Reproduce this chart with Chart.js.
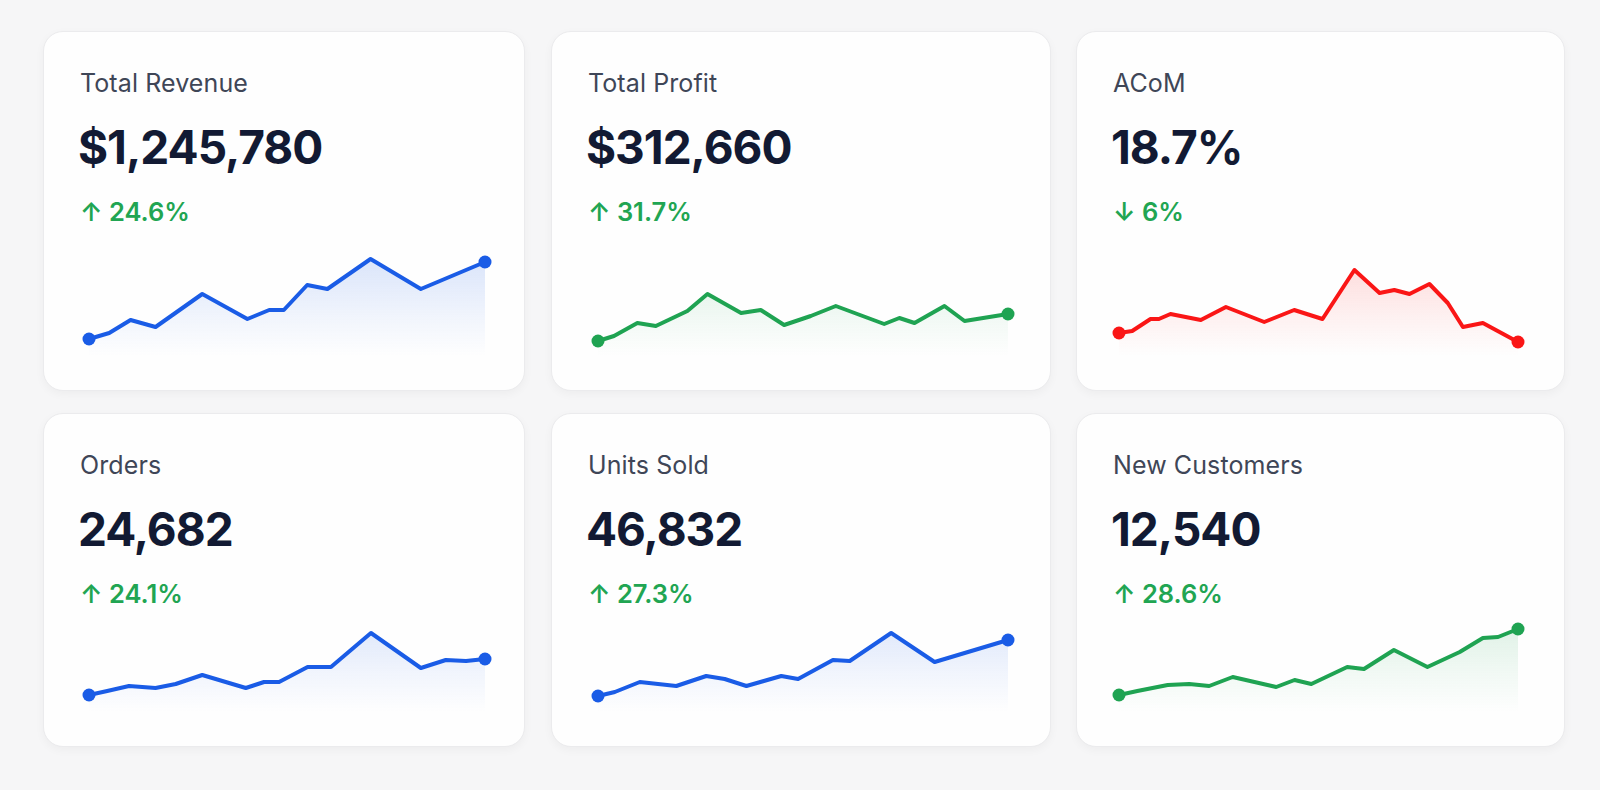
<!DOCTYPE html>
<html>
<head>
<meta charset="utf-8">
<title>KPI Dashboard</title>
<script src="https://cdn.jsdelivr.net/npm/chart.js@4.4.1/dist/chart.umd.min.js"></script>
<style>
    html, body {
        margin: 0;
        padding: 0;
        width: 1600px;
        height: 790px;
        background: #f6f6f7;
        font-family: Inter, "Noto Sans", sans-serif;
        overflow: hidden;
    }
    .card {
        position: absolute;
        box-sizing: border-box;
        background: #fefefe;
        border: 1px solid #ebebed;
        border-radius: 20px;
        box-shadow: 0 3px 10px rgba(0, 0, 0, 0.04);
    }
    .card-title {
        position: absolute;
        left: 36px;
        top: 36px;
        font-size: 25px;
        color: #3f4657;
        letter-spacing: 0.1px;
    }
    .card-value {
        position: absolute;
        left: 34px;
        top: 87px;
        font-size: 46px;
        font-weight: 700;
        color: #121a33;
        letter-spacing: -1px;
    }
    .card-change {
        position: absolute;
        left: 36px;
        top: 164px;
        font-size: 25.5px;
        font-weight: 600;
        color: #21a552;
    }
    .spark {
        position: absolute;
    }
</style>
</head>
<body>
<div id="dashboard"></div>

<script>
// KPI cards with sparklines

const cardTitles = ['Total Revenue', 'Total Profit', 'ACoM', 'Orders', 'Units Sold', 'New Customers'];
const cardValues = ['$1,245,780', '$312,660', '18.7%', '24,682', '46,832', '12,540'];
const cardChanges = ['↑ 24.6%', '↑ 31.7%', '↓ 6%', '↑ 24.1%', '↑ 27.3%', '↑ 28.6%'];

// sparkline points: x = position along period (0-100), y = relative level (0-100)
const revenueX = [0, 5.1, 10.5, 16.8, 28.6, 40, 45.5, 49.2, 55.1, 60.2, 71.1, 83.8, 100];
const revenueY = [17, 23, 36, 29, 62, 37, 46, 46, 71, 67, 97, 67, 94];

const profitX = [0, 3.9, 9.6, 14.1, 21.8, 26.7, 34.9, 39.7, 45.4, 51.9, 58, 69.8, 73.5, 77.2, 84.5, 89.4, 100];
const profitY = [15, 20, 33, 30, 45, 62, 43, 46, 31, 40, 50, 32, 38, 33, 50, 35, 42];

const acomX = [0, 3.3, 7.9, 10, 12.9, 20.5, 26.8, 36.4, 43.9, 51, 59, 65.3, 69, 72.8, 77.8, 82.4, 86.2, 91.2, 100];
const acomY = [23, 25, 37, 37, 42, 36, 49, 34, 46, 37, 86, 63, 66, 62, 72, 53, 29, 33, 14];

const ordersX = [0, 4.6, 10.1, 16.8, 21.9, 28.6, 39.6, 44.2, 48, 55.2, 61.1, 71.2, 83.8, 90.1, 95.2, 100];
const ordersY = [17, 21, 26, 24, 28, 37, 24, 30, 30, 45, 45, 79, 44, 52, 51, 53];

const unitsX = [0, 4.1, 10.2, 19.1, 26.4, 30.9, 36.2, 44.7, 48.8, 57.3, 61.4, 71.5, 82.1, 100];
const unitsY = [16, 20, 30, 26, 36, 33, 26, 36, 33, 52, 51, 79, 50, 72];

const customersX = [0, 4.6, 12.2, 17.6, 22.6, 28.5, 39.4, 44, 48.2, 57.2, 61.4, 68.9, 77.3, 85.4, 91.2, 95, 100];
const customersY = [17, 21, 27, 28, 26, 35, 25, 32, 28, 45, 43, 62, 45, 60, 74, 75, 83];

const seriesX = [revenueX, profitX, acomX, ordersX, unitsX, customersX];
const seriesY = [revenueY, profitY, acomY, ordersY, unitsY, customersY];

const BLUE = [26, 92, 230];
const GREEN = [31, 163, 82];
const RED = [250, 22, 22];
const seriesColors = [BLUE, GREEN, RED, BLUE, BLUE, GREEN];

// card grid geometry
const cols = [
    { left: 43, width: 482, chartLeft: 45, chartWidth: 396 },
    { left: 551, width: 500, chartLeft: 46, chartWidth: 410 },
    { left: 1076, width: 489, chartLeft: 42, chartWidth: 399 }
];
const rows = [
    { top: 31, height: 360, chartTop: 224 },
    { top: 413, height: 334, chartTop: 198 }
];
const CHART_H = 100;
const PAD = 10;

function rgba(c, a) {
    return `rgba(${c[0]}, ${c[1]}, ${c[2]}, ${a})`;
}

function buildCards() {
    const root = document.getElementById('dashboard');
    let html = '';

    cardTitles.forEach((title, i) => {
        const col = cols[i % 3];
        const row = rows[Math.floor(i / 3)];
        html += `
            <div class="card" style="left:${col.left}px; top:${row.top}px; width:${col.width}px; height:${row.height}px;">
                <div class="card-title">${title}</div>
                <div class="card-value">${cardValues[i]}</div>
                <div class="card-change">${cardChanges[i]}</div>
                <div class="spark" style="left:${col.chartLeft - PAD}px; top:${row.chartTop - PAD}px; width:${col.chartWidth + PAD * 2}px; height:${CHART_H + PAD * 2}px;">
                    <canvas id="spark${i}"></canvas>
                </div>
            </div>
        `;
    });

    root.innerHTML = html;
}

function createSparkline(i) {
    const xs = seriesX[i];
    const ys = seriesY[i];
    const color = seriesColors[i];
    const last = xs.length - 1;

    new Chart(document.getElementById('spark' + i), {
        type: 'line',
        data: {
            datasets: [{
                data: xs.map((x, k) => ({ x: x, y: ys[k] })),
                clip: false,
                borderColor: rgba(color, 1),
                borderWidth: 4,
                borderJoinStyle: 'round',
                borderCapStyle: 'round',
                tension: 0,
                fill: 'origin',
                backgroundColor: function(context) {
                    const area = context.chart.chartArea;
                    if (!area) return rgba(color, 0.08);
                    const g = context.chart.ctx.createLinearGradient(0, area.top, 0, area.bottom);
                    g.addColorStop(0, rgba(color, 0.16));
                    g.addColorStop(0.6, rgba(color, 0.06));
                    g.addColorStop(1, rgba(color, 0));
                    return g;
                },
                pointRadius: ctx => (ctx.dataIndex === 0 || ctx.dataIndex === last) ? 6.5 : 0,
                pointBackgroundColor: rgba(color, 1),
                pointBorderWidth: 0,
                pointHoverRadius: 0
            }]
        },
        options: {
            responsive: true,
            maintainAspectRatio: false,
            animation: false,
            layout: { padding: PAD },
            plugins: {
                legend: { display: false },
                tooltip: { enabled: false }
            },
            scales: {
                x: { type: 'linear', min: 0, max: 100, display: false },
                y: { min: 0, max: CHART_H, display: false }
            }
        }
    });
}

buildCards();
cardTitles.forEach((t, i) => createSparkline(i));
</script>
</body>
</html>
